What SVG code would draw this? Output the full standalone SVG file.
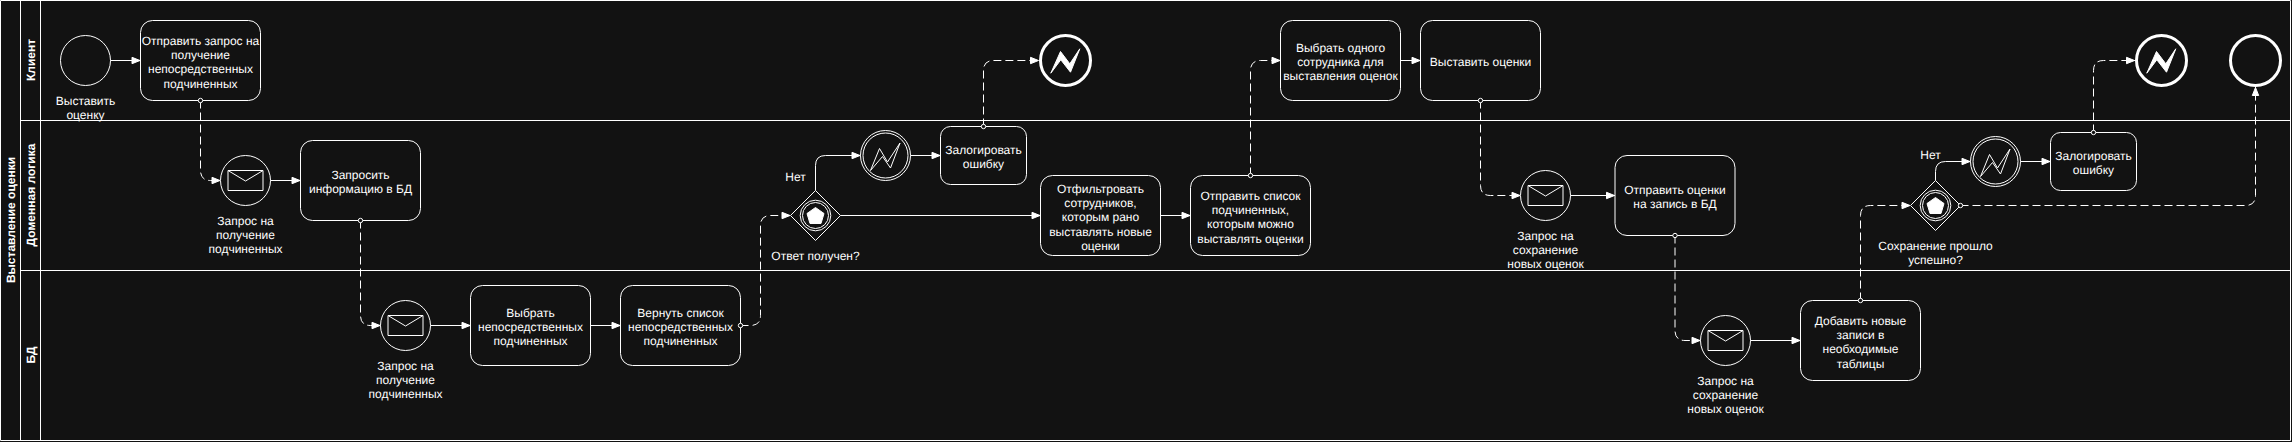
<svg xmlns="http://www.w3.org/2000/svg" width="2292" height="442" viewBox="0 0 2292 442">
<style>
text{font-family:"Liberation Sans",Arial,sans-serif;font-size:12px;fill:#fff;text-anchor:middle;text-rendering:geometricPrecision}
.b{font-weight:bold}
.s{fill:none;stroke:#fff;stroke-width:1}
.n{fill:#121212;stroke:#fff;stroke-width:1}
.t{fill:#121212;stroke:#fff;stroke-width:1}
.e{fill:#121212;stroke:#fff;stroke-width:3}
.f{fill:#fff;stroke:#fff;stroke-width:1}
.l{fill:none;stroke:#fff;stroke-width:1;marker-end:url(#arrow)}
.m{fill:none;stroke:#fff;stroke-width:1;stroke-dasharray:8 4;marker-start:url(#dot);marker-end:url(#arrow)}
</style>
<defs>
<marker id="arrow" markerUnits="userSpaceOnUse" markerWidth="12" markerHeight="10" refX="10" refY="5" orient="auto"><path d="M1.500 1.800L9.500 5L1.500 8.200Z" fill="#fff" stroke="#fff" stroke-width="1"/></marker>
<marker id="dot" markerUnits="userSpaceOnUse" markerWidth="8" markerHeight="8" refX="4" refY="4" orient="auto"><circle cx="4" cy="4" r="2.200" fill="#121212" stroke="#fff" stroke-width="1"/></marker>
<g id="env"><path class="s" d="M-17.500-10H17.500V10H-17.500ZM-17.500-10L0 .5L17.500-10"/></g>
<g id="bolt"><path class="s" d="M-15 15L-6-7L2 6.500L14.500-12.500L5 12.500L-3 1Z"/></g>
<g id="boltf"><path class="f" d="M-14.700 12.700L-5-9L4.300 3.300L14.300-11.700L5 11.700L-4.700-.7Z"/></g>
<g id="penta"><circle class="s" r="15.300"/><circle class="s" r="13"/><path class="f" d="M0-8L8.500-2L5.500 8H-5.500L-8.500-2Z"/></g>
</defs>
<rect width="2292" height="442" fill="#121212"/>
<g id="pool">
<path class="s" d="M.5.500H2290.500V440.500H.5ZM20.500.500V440.500M40.500.500V440.500M20.500 120.500H2290.500M20.500 270.500H2290.500"/>
<text class="b" transform="translate(15,220) rotate(-90)">Выставление оценки</text>
<text class="b" transform="translate(35,60) rotate(-90)">Клиент</text>
<text class="b" transform="translate(35,195) rotate(-90)">Доменная логика</text>
<text class="b" transform="translate(35,355) rotate(-90)">БД</text>
</g>
<g id="start"><circle class="n" cx="85.500" cy="60.500" r="25"/><text x="85.500" y="104.500">Выставить</text><text x="85.500" y="118.900">оценку</text></g>
<g id="task1"><rect class="t" x="140.500" y="20.500" width="120" height="80" rx="12"/><text x="200.500" y="44.500">Отправить запрос на</text><text x="200.500" y="58.900">получение</text><text x="200.500" y="73.300">непосредственных</text><text x="200.500" y="87.700">подчиненных</text></g>
<g id="msg1"><circle class="n" cx="245.500" cy="180.500" r="25"/><use href="#env" x="245.500" y="180.500"/><text x="245.500" y="224.500">Запрос на</text><text x="245.500" y="238.900">получение</text><text x="245.500" y="253.300">подчиненных</text></g>
<g id="task2"><rect class="t" x="300.500" y="140.500" width="120" height="80" rx="12"/><text x="360.500" y="179">Запросить</text><text x="360.500" y="193.400">информацию в БД</text></g>
<g id="msg2"><circle class="n" cx="405.500" cy="325.500" r="25"/><use href="#env" x="405.500" y="325.500"/><text x="405.500" y="369.500">Запрос на</text><text x="405.500" y="383.900">получение</text><text x="405.500" y="398.300">подчиненных</text></g>
<g id="task3"><rect class="t" x="470.500" y="285.500" width="120" height="80" rx="12"/><text x="530.500" y="316.500">Выбрать</text><text x="530.500" y="330.900">непосредственных</text><text x="530.500" y="345.300">подчиненных</text></g>
<g id="task4"><rect class="t" x="620.500" y="285.500" width="120" height="80" rx="12"/><text x="680.500" y="316.500">Вернуть список</text><text x="680.500" y="330.900">непосредственных</text><text x="680.500" y="345.300">подчиненных</text></g>
<g id="gw1"><path class="n" d="M815.500 190.500L840.500 215.500L815.500 240.500L790.500 215.500Z"/><use href="#penta" x="815.500" y="215.500"/><text x="815.500" y="259.500">Ответ получен?</text><text x="795.500" y="180.500">Нет</text></g>
<g id="err1"><circle class="n" cx="885.500" cy="155.500" r="25"/><circle class="s" cx="885.500" cy="155.500" r="22.500"/><use href="#bolt" x="885.500" y="155.500"/></g>
<g id="log1"><rect class="t" x="940.500" y="126.500" width="86" height="58" rx="10"/><text x="983.500" y="153.500">Залогировать</text><text x="983.500" y="167.900">ошибку</text></g>
<g id="end1"><circle class="e" cx="1065.500" cy="60.500" r="25"/><use href="#boltf" x="1065.500" y="60.500"/></g>
<g id="task5"><rect class="t" x="1040.500" y="175.500" width="120" height="80" rx="12"/><text x="1100.500" y="192.500">Отфильтровать</text><text x="1100.500" y="206.900">сотрудников,</text><text x="1100.500" y="221.300">которым рано</text><text x="1100.500" y="235.700">выставлять новые</text><text x="1100.500" y="250.100">оценки</text></g>
<g id="task6"><rect class="t" x="1190.500" y="175.500" width="120" height="80" rx="12"/><text x="1250.500" y="199.500">Отправить список</text><text x="1250.500" y="213.900">подчиненных,</text><text x="1250.500" y="228.300">которым можно</text><text x="1250.500" y="242.700">выставлять оценки</text></g>
<g id="task7"><rect class="t" x="1280.500" y="20.500" width="120" height="80" rx="12"/><text x="1340.500" y="51.500">Выбрать одного</text><text x="1340.500" y="65.900">сотрудника для</text><text x="1340.500" y="80.300">выставления оценок</text></g>
<g id="task8"><rect class="t" x="1420.500" y="20.500" width="120" height="80" rx="12"/><text x="1480.500" y="65.500">Выставить оценки</text></g>
<g id="msg3"><circle class="n" cx="1545.500" cy="195.500" r="25"/><use href="#env" x="1545.500" y="195.500"/><text x="1545.500" y="239.500">Запрос на</text><text x="1545.500" y="253.900">сохранение</text><text x="1545.500" y="268.300">новых оценок</text></g>
<g id="task9"><rect class="t" x="1615" y="155.500" width="120" height="80" rx="12"/><text x="1675" y="194">Отправить оценки</text><text x="1675" y="208.400">на запись в БД</text></g>
<g id="msg4"><circle class="n" cx="1725.500" cy="340.500" r="25"/><use href="#env" x="1725.500" y="340.500"/><text x="1725.500" y="384.500">Запрос на</text><text x="1725.500" y="398.900">сохранение</text><text x="1725.500" y="413.300">новых оценок</text></g>
<g id="task10"><rect class="t" x="1800.500" y="300.500" width="120" height="80" rx="12"/><text x="1860.500" y="324.500">Добавить новые</text><text x="1860.500" y="338.900">записи в</text><text x="1860.500" y="353.300">необходимые</text><text x="1860.500" y="367.700">таблицы</text></g>
<g id="gw2"><path class="n" d="M1935.500 180.500L1960.500 205.500L1935.500 230.500L1910.500 205.500Z"/><use href="#penta" x="1935.500" y="205.500"/><text x="1935.500" y="249.500">Сохранение прошло</text><text x="1935.500" y="263.900">успешно?</text><text x="1930.500" y="158.500">Нет</text></g>
<g id="err2"><circle class="n" cx="1995.500" cy="161.500" r="25"/><circle class="s" cx="1995.500" cy="161.500" r="22.500"/><use href="#bolt" x="1995.500" y="161.500"/></g>
<g id="log2"><rect class="t" x="2050.500" y="132.500" width="86" height="58" rx="10"/><text x="2093.500" y="159.500">Залогировать</text><text x="2093.500" y="173.900">ошибку</text></g>
<g id="end2"><circle class="e" cx="2161.500" cy="60.500" r="25"/><use href="#boltf" x="2161.500" y="60.500"/></g>
<g id="end3"><circle class="e" cx="2255.500" cy="60.500" r="25"/></g>
<g id="connectors">
<path class="l" d="M110.500 60.500H140.500"/>
<path class="m" d="M200.500 100.500V170.500Q200.500 180.500 210.500 180.500H220.500"/>
<path class="l" d="M270.500 180.500H300.500"/>
<path class="m" d="M360.500 220.500V315.500Q360.500 325.500 370.500 325.500H380.500"/>
<path class="l" d="M430.500 325.500H470.500"/>
<path class="l" d="M590.500 325.500H620.500"/>
<path class="m" d="M740.500 325.500H750.500Q760.500 325.500 760.500 315.500V225.500Q760.500 215.500 770.500 215.500H790.500"/>
<path class="l" d="M815.500 190.500V165.500Q815.500 155.500 825.500 155.500H860.500"/>
<path class="l" d="M840.500 215.500H1040.500"/>
<path class="l" d="M910.500 155.500H940.500"/>
<path class="m" d="M983.500 126.500V70.500Q983.500 60.500 993.500 60.500H1039"/>
<path class="l" d="M1160.500 215.500H1190.500"/>
<path class="m" d="M1250.500 175.500V70.500Q1250.500 60.500 1260.500 60.500H1280.500"/>
<path class="l" d="M1400.500 60.500H1420.500"/>
<path class="m" d="M1480.500 100.500V185.500Q1480.500 195.500 1490.500 195.500H1520.500"/>
<path class="l" d="M1570.500 195.500H1615"/>
<path class="m" d="M1675 235.500V330.500Q1675 340.500 1685 340.500H1700.500"/>
<path class="l" d="M1750.500 340.500H1800.500"/>
<path class="m" d="M1860.500 300.500V215.500Q1860.500 205.500 1870.500 205.500H1910.500"/>
<path class="l" d="M1935.500 180.500V171.500Q1935.500 161.500 1945.500 161.500H1970.500"/>
<path class="m" d="M1960.500 205.500H2245.500Q2255.500 205.500 2255.500 195.500V87"/>
<path class="l" d="M2020.500 161.500H2050.500"/>
<path class="m" d="M2093.500 132.500V70.500Q2093.500 60.500 2103.500 60.500H2135"/>
</g>
</svg>
